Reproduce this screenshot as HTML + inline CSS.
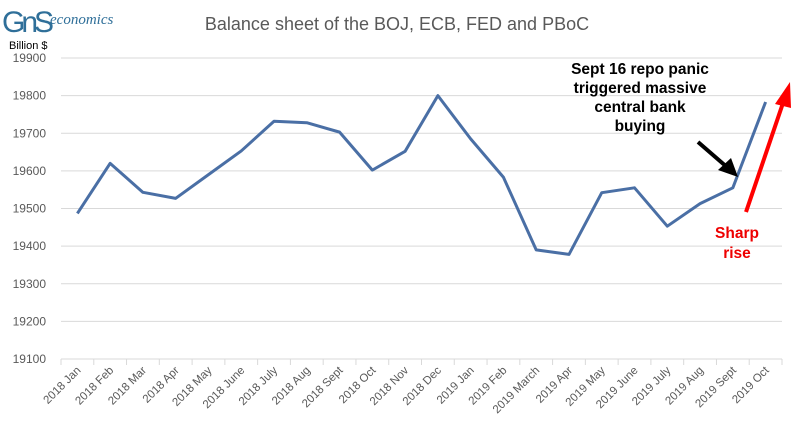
<!DOCTYPE html>
<html><head><meta charset="utf-8"><style>
body{margin:0;background:#fff;}
svg{display:block;font-family:"Liberation Sans",sans-serif;}
</style></head><body>
<svg id="c" width="800" height="441">
<text x="2" y="32" font-family="Liberation Sans" font-size="30" fill="#2f6f99" letter-spacing="-4">GnS</text>
<text x="50" y="24" font-family="Liberation Serif" font-size="15" font-style="italic" fill="#2f6f99">economics</text>
<text x="9" y="49" font-size="11" fill="#000">Billion $</text>
<text x="397" y="30" text-anchor="middle" font-size="18" fill="#595959">Balance sheet of the BOJ, ECB, FED and PBoC</text>
<g id="grid"></g><g id="xt"></g><g id="line"></g>
<text x="640" y="74" text-anchor="middle" font-size="15.5" font-weight="bold" fill="#000"><tspan x="640">Sept 16 repo panic</tspan><tspan x="640" dy="19">triggered massive</tspan><tspan x="640" dy="19">central bank</tspan><tspan x="640" dy="19">buying</tspan></text>
<line x1="698" y1="142" x2="728" y2="168" stroke="#000" stroke-width="4"/>
<polygon points="738,177 718,170 731,158" fill="#000"/>
<line x1="746" y1="212" x2="783" y2="103" stroke="#f00" stroke-width="4"/>
<polygon points="790,82 775,104 791,108" fill="#f00"/>
<text x="737" y="238" text-anchor="middle" font-size="15.5" font-weight="bold" fill="#e00"><tspan x="737">Sharp</tspan><tspan x="737" dy="20">rise</tspan></text>
</svg>
<script>
const categories=["2018 Jan","2018 Feb","2018 Mar","2018 Apr","2018 May","2018 June","2018 July","2018 Aug","2018 Sept","2018 Oct","2018 Nov","2018 Dec","2019 Jan","2019 Feb","2019 March","2019 Apr","2019 May","2019 June","2019 July","2019 Aug","2019 Sept","2019 Oct"];
const values=[19487,19620,19543,19527,19590,19653,19732,19728,19703,19602,19652,19800,19685,19583,19390,19378,19542,19555,19453,19513,19555,19783];
const yTicks=[19100,19200,19300,19400,19500,19600,19700,19800,19900];
const NS="http://www.w3.org/2000/svg";
const x0=61,x1=782,yMin=19100,yMax=19900,py0=359,py1=58;
const step=(x1-x0)/categories.length;
function xs(i){return x0+step*(i+0.5);}
function ys(v){return py0-(v-yMin)/(yMax-yMin)*(py0-py1);}
const grid=document.getElementById('grid');
yTicks.forEach(t=>{
 const l=document.createElementNS(NS,'line');
 l.setAttribute('x1',x0);l.setAttribute('x2',x1);l.setAttribute('y1',ys(t));l.setAttribute('y2',ys(t));
 l.setAttribute('stroke','#d9d9d9');
 
 
 grid.appendChild(l);
 const tx=document.createElementNS(NS,'text');
 tx.setAttribute('x',46);tx.setAttribute('y',ys(t)+4);tx.setAttribute('text-anchor','end');
 tx.setAttribute('font-size','12');tx.setAttribute('fill','#595959');tx.textContent=t;
 
 
 grid.appendChild(tx);
});
const xt=document.getElementById('xt');
for(let i=0;i<=categories.length;i++){
 const l=document.createElementNS(NS,'line');
 const x=x0+step*i;
 l.setAttribute('x1',x);l.setAttribute('x2',x);l.setAttribute('y1',py0);l.setAttribute('y2',py0+6);
 l.setAttribute('stroke','#d9d9d9');
 
 
 xt.appendChild(l);
}
categories.forEach((c,i)=>{
 const tx=document.createElementNS(NS,'text');
 const x=xs(i)+4,y=py0+12;
 tx.setAttribute('x',x);tx.setAttribute('y',y);tx.setAttribute('text-anchor','end');
 tx.setAttribute('transform','rotate(-45 '+x+' '+y+')');
 tx.setAttribute('font-size','11.5');tx.setAttribute('fill','#595959');tx.textContent=c;
 
 
 xt.appendChild(tx);
});
const p=document.createElementNS(NS,'polyline');
p.setAttribute('points',values.map((v,i)=>xs(i)+','+ys(v)).join(' '));
p.setAttribute('fill','none');p.setAttribute('stroke','#4a6fa5');p.setAttribute('stroke-width','3');
p.setAttribute('stroke-linejoin','round');


document.getElementById('line').appendChild(p);
</script>
</body></html>
